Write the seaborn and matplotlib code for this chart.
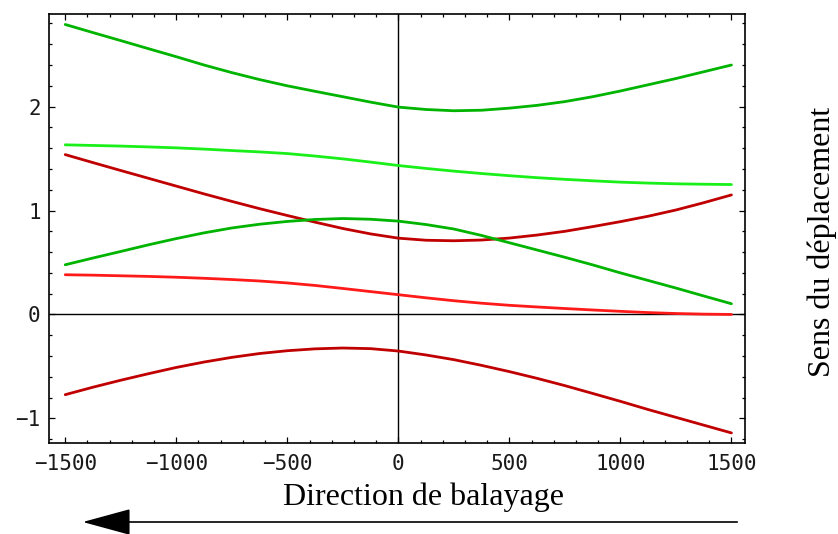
import numpy as np
import pandas as pd
import matplotlib
matplotlib.use("Agg")
import matplotlib.pyplot as plt
from matplotlib.ticker import MultipleLocator
import seaborn as sns

# valeurs (pas de 125)
x_vals = [-1500, -1375, -1250, -1125, -1000, -875, -750, -625, -500, -375, -250, -125, 0,
          125, 250, 375, 500, 625, 750, 875, 1000, 1125, 1250, 1375, 1500]

branche_a = [2.79, 2.712, 2.635, 2.557, 2.48, 2.40, 2.327, 2.26, 2.20, 2.147, 2.095, 2.043, 1.995,
             1.972, 1.96, 1.965, 1.985, 2.012, 2.048, 2.095, 2.15, 2.21, 2.27, 2.335, 2.40]
branche_b = [1.632, 1.626, 1.62, 1.612, 1.603, 1.591, 1.577, 1.564, 1.548, 1.524, 1.497, 1.466, 1.433,
             1.405, 1.379, 1.356, 1.335, 1.316, 1.30, 1.286, 1.273, 1.264, 1.257, 1.253, 1.25]
branche_c = [1.538, 1.461, 1.385, 1.31, 1.235, 1.16, 1.088, 1.018, 0.952, 0.888, 0.827, 0.775, 0.734,
             0.714, 0.709, 0.716, 0.735, 0.764, 0.80, 0.845, 0.893, 0.945, 1.005, 1.075, 1.15]
branche_d = [0.478, 0.543, 0.606, 0.67, 0.73, 0.785, 0.832, 0.868, 0.895, 0.914, 0.923, 0.916, 0.898,
             0.865, 0.822, 0.76, 0.69, 0.62, 0.55, 0.477, 0.40, 0.327, 0.254, 0.178, 0.103]
branche_e = [0.382, 0.378, 0.372, 0.366, 0.358, 0.348, 0.336, 0.322, 0.303, 0.279, 0.25, 0.22, 0.19,
             0.16, 0.132, 0.108, 0.088, 0.072, 0.057, 0.043, 0.03, 0.018, 0.009, 0.003, 0.0]
branche_f = [-0.772, -0.70, -0.633, -0.57, -0.51, -0.458, -0.413, -0.376, -0.349, -0.331, -0.323, -0.329, -0.352,
             -0.39, -0.435, -0.49, -0.55, -0.615, -0.685, -0.76, -0.836, -0.915, -0.99, -1.065, -1.14]

couleurs = {
    "a": "#00b400",
    "b": "#19f019",
    "c": "#c00000",
    "d": "#00b400",
    "e": "#ff1a1a",
    "f": "#c00000",
}

series = {"a": branche_a, "b": branche_b, "c": branche_c,
          "d": branche_d, "e": branche_e, "f": branche_f}
df = pd.concat([pd.DataFrame({"x": x_vals, "y": v, "branche": k}) for k, v in series.items()],
               ignore_index=True)

sns.set_style("ticks")

fig = plt.figure(figsize=(8.38, 5.34), dpi=100)
ax = fig.add_axes([0.0585, 0.1704, 0.8305, 0.8034])

ax.axhline(0, color="black", lw=1.0, zorder=1)
ax.axvline(0, color="black", lw=1.0, zorder=1)

sns.lineplot(data=df, x="x", y="y", hue="branche", palette=couleurs,
             linewidth=2.0, legend=False, ax=ax, zorder=3)

ax.set_xlim(-1573, 1561)
ax.set_ylim(-1.237, 2.891)
ax.xaxis.set_major_locator(MultipleLocator(500))
ax.xaxis.set_minor_locator(MultipleLocator(100))
ax.yaxis.set_major_locator(MultipleLocator(1))
ax.yaxis.set_minor_locator(MultipleLocator(0.2))
ax.tick_params(which="both", direction="in", top=True, right=True, color="black", width=0.9)
ax.tick_params(which="major", length=4.0)
ax.tick_params(which="minor", length=2.0)
ax.tick_params(axis="x", which="major", pad=8)
ax.tick_params(axis="y", which="major", pad=6)
ax.set_xticklabels([str(int(t)).replace("-", "\u2212") for t in ax.get_xticks()])
ax.set_yticklabels([str(int(t)).replace("-", "\u2212") for t in ax.get_yticks()])
for lab in ax.get_xticklabels() + ax.get_yticklabels():
    lab.set_family("DejaVu Sans Mono")
    lab.set_fontsize(15)
    lab.set_color("#1a1a1a")
for sp in ax.spines.values():
    sp.set_color("black")
    sp.set_linewidth(1.2)
ax.set_xlabel("")
ax.set_ylabel("")

fig.text(0.505, 0.069, "Direction de balayage", family="Liberation Serif",
         fontsize=23, ha="center", va="center", color="black")
fig.text(0.981, 0.547, "Sens du déplacement", family="Liberation Serif",
         fontsize=23, ha="center", va="center", rotation=90, color="black")

# flèche sous l'axe
fig.add_artist(matplotlib.patches.FancyArrowPatch(
    (740 / 838, 1 - 522 / 534), (80 / 838, 1 - 522 / 534),
    transform=fig.transFigure, arrowstyle="-|>,head_length=2.2,head_width=0.6",
    mutation_scale=14, color="black", lw=1.2))

fig.savefig("out.png", dpi=100)
